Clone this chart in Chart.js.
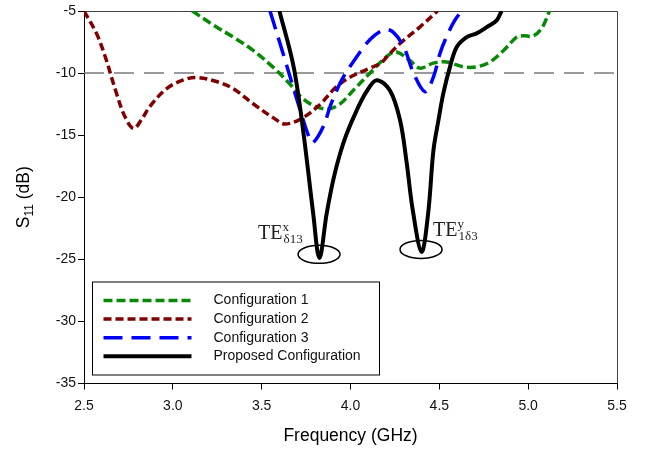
<!DOCTYPE html>
<html>
<head>
<meta charset="utf-8">
<script src="https://cdn.jsdelivr.net/npm/chart.js@4.4.0/dist/chart.umd.min.js"></script>
<style>
  html, body { margin: 0; padding: 0; background: #fff; }
</style>
</head>
<body>
<canvas id="s11Chart" width="645" height="451"></canvas>
<script>
// values (frequency in GHz, S11 in dB)
var freqConfig1 = [3.11, 3.23, 3.34, 3.45, 3.57, 3.66, 3.72, 3.79, 3.87, 3.94, 4.015, 4.11, 4.21, 4.26, 4.335, 4.39, 4.466, 4.54, 4.635, 4.71, 4.785, 4.86, 4.935, 4.97, 5.03, 5.08, 5.12];
var s11Config1 = [-5.0, -6.15, -7.1, -8.15, -9.6, -10.9, -11.9, -12.6, -12.9, -12.5, -11.4, -10.0, -8.6, -8.3, -9.0, -9.6, -9.2, -9.1, -9.5, -9.5, -9.1, -8.2, -7.1, -7.0, -7.0, -6.3, -5.0];

var freqConfig2 = [2.50, 2.57, 2.62, 2.68, 2.73, 2.78, 2.83, 2.87, 2.965, 3.06, 3.135, 3.25, 3.34, 3.45, 3.57, 3.63, 3.72, 3.83, 3.92, 4.015, 4.11, 4.17, 4.21, 4.28, 4.39, 4.49];
var s11Config2 = [-5.0, -6.8, -8.7, -11.5, -13.5, -14.45, -13.6, -12.7, -11.25, -10.55, -10.35, -10.7, -11.25, -12.45, -13.65, -14.1, -13.7, -12.5, -11.1, -10.2, -9.6, -9.2, -8.6, -7.6, -6.3, -5.0];

var freqConfig3 = [3.547, 3.62, 3.70, 3.77, 3.79, 3.847, 3.885, 3.922, 3.96, 4.015, 4.11, 4.19, 4.24, 4.30, 4.355, 4.42, 4.467, 4.504, 4.54, 4.585, 4.625];
var s11Config3 = [-5.0, -8.4, -12.2, -15.3, -15.6, -14.3, -12.7, -11.4, -10.3, -9.1, -7.3, -6.5, -6.7, -7.9, -10.0, -11.5, -10.3, -8.4, -7.1, -5.8, -5.0];

var freqProposed = [3.60, 3.68, 3.735, 3.79, 3.825, 3.866, 3.903, 3.941, 3.978, 4.035, 4.09, 4.147, 4.222, 4.279, 4.316, 4.35, 4.40, 4.437, 4.467, 4.495, 4.523, 4.56, 4.598, 4.654, 4.71, 4.767, 4.823, 4.85];
var s11Proposed = [-5.0, -9.5, -14.8, -21.3, -24.9, -21.3, -18.6, -16.5, -14.9, -13.0, -11.5, -10.57, -11.4, -13.8, -17.2, -21.0, -24.4, -21.3, -16.2, -13.8, -11.6, -9.5, -7.9, -7.1, -6.8, -6.3, -5.75, -5.0];

var refLevel = -10;
var xTicks = [2.5, 3.0, 3.5, 4.0, 4.5, 5.0, 5.5];
var yTicks = [-35, -30, -25, -20, -15, -10, -5];

var seriesNames = ['Configuration 1', 'Configuration 2', 'Configuration 3', 'Proposed Configuration'];

// mode markers (ellipse around each dip + its label)
var modeFreq = [3.823, 4.397];
var modeLevel = [-24.6, -24.2];
var labelFreq = [3.48, 4.465];
var labelLevel = [-23.4, -23.15];
var labelSup = ['x', 'y'];
var labelSub = ['\u03b413', '1\u03b43'];

function toPoints(xs, ys) {
    var pts = [];
    for (var i = 0; i < xs.length; i++) {
        pts.push({x: xs[i], y: ys[i]});
    }
    return pts;
}

var sansFont = "'Liberation Sans', Arial, sans-serif";
var serifFont = "'Liberation Serif', 'Times New Roman', serif";

var frameLines = {
    id: 'frameLines',
    beforeDatasetsDraw: function (chart) {
        var ctx = chart.ctx, a = chart.chartArea;
        ctx.save();
        ctx.strokeStyle = '#444';
        ctx.lineWidth = 1;
        ctx.beginPath();
        ctx.moveTo(a.left, a.top + 0.5);
        ctx.lineTo(a.right + 0.5, a.top + 0.5);
        ctx.lineTo(a.right + 0.5, a.bottom);
        ctx.stroke();
        ctx.restore();
    }
};

var modeMarks = {
    id: 'modeMarks',
    afterDatasetsDraw: function (chart) {
        var ctx = chart.ctx;
        var xs = chart.scales.x, ys = chart.scales.y;
        ctx.save();
        ctx.strokeStyle = '#000';
        ctx.lineWidth = 1.5;
        for (var i = 0; i < modeFreq.length; i++) {
            ctx.beginPath();
            ctx.ellipse(xs.getPixelForValue(modeFreq[i]), ys.getPixelForValue(modeLevel[i]), 21, 9, 0, 0, Math.PI * 2);
            ctx.stroke();
        }
        ctx.fillStyle = '#222';
        ctx.textBaseline = 'alphabetic';
        ctx.textAlign = 'left';
        for (var j = 0; j < labelFreq.length; j++) {
            var px = xs.getPixelForValue(labelFreq[j]);
            var py = ys.getPixelForValue(labelLevel[j]);
            ctx.font = '20px ' + serifFont;
            ctx.fillText('TE', px, py);
            var w = ctx.measureText('TE').width;
            ctx.font = '13px ' + serifFont;
            ctx.fillText(labelSup[j], px + w, py - 8);
            ctx.fillText(labelSub[j], px + w + 1, py + 4);
        }
        ctx.restore();
    }
};

var yTitle = {
    id: 'yTitle',
    afterDraw: function (chart) {
        var ctx = chart.ctx, a = chart.chartArea;
        ctx.save();
        ctx.translate(29, (a.top + a.bottom) / 2);
        ctx.rotate(-Math.PI / 2);
        ctx.fillStyle = '#000';
        ctx.textBaseline = 'alphabetic';
        ctx.textAlign = 'left';
        ctx.font = '17.5px ' + sansFont;
        var wS = ctx.measureText('S').width;
        var wRest = ctx.measureText(' (dB)').width;
        ctx.font = '12px ' + sansFont;
        var wSub = ctx.measureText('11').width;
        var x0 = -(wS + wSub + wRest) / 2;
        ctx.font = '17.5px ' + sansFont;
        ctx.fillText('S', x0, 0);
        ctx.font = '12px ' + sansFont;
        ctx.fillText('11', x0 + wS, 4);
        ctx.font = '17.5px ' + sansFont;
        ctx.fillText(' (dB)', x0 + wS + wSub, 0);
        ctx.restore();
    }
};

var boxLegend = {
    id: 'boxLegend',
    afterDraw: function (chart) {
        var ctx = chart.ctx, a = chart.chartArea;
        var left = a.left + 8.5, top = a.bottom - 101.5;
        var width = 287, height = 93;
        ctx.save();
        ctx.fillStyle = '#fff';
        ctx.fillRect(left, top, width, height);
        ctx.strokeStyle = '#000';
        ctx.lineWidth = 1;
        ctx.strokeRect(left, top, width, height);
        ctx.font = '14px ' + sansFont;
        ctx.textBaseline = 'middle';
        ctx.textAlign = 'left';
        for (var i = 0; i < seriesNames.length; i++) {
            var ds = chart.data.datasets[i];
            var rowY = top + 18.5 + i * 18.6;
            ctx.strokeStyle = ds.borderColor;
            ctx.lineWidth = ds.borderWidth;
            ctx.setLineDash(ds.borderDash || []);
            ctx.beginPath();
            ctx.moveTo(left + 11, rowY);
            ctx.lineTo(left + 99, rowY);
            ctx.stroke();
            ctx.setLineDash([]);
            ctx.fillStyle = '#111';
            ctx.fillText(seriesNames[i], left + 121, rowY);
        }
        ctx.restore();
    }
};

var lineBase = {
    showLine: true,
    pointRadius: 0,
    fill: false,
    tension: 0.35
};

var ctx = document.getElementById('s11Chart');
var s11Chart = new Chart(ctx, {
    type: 'scatter',
    data: {
        datasets: [
            Object.assign({}, lineBase, {
                label: seriesNames[0],
                data: toPoints(freqConfig1, s11Config1),
                borderColor: '#088a08',
                borderWidth: 3.5,
                borderDash: [9, 4],
                order: 3
            }),
            Object.assign({}, lineBase, {
                label: seriesNames[1],
                data: toPoints(freqConfig2, s11Config2),
                borderColor: '#800000',
                borderWidth: 3.5,
                borderDash: [8, 4],
                order: 2
            }),
            Object.assign({}, lineBase, {
                label: seriesNames[2],
                data: toPoints(freqConfig3, s11Config3),
                borderColor: '#0000ff',
                borderWidth: 3.5,
                borderDash: [19, 9],
                order: 1
            }),
            Object.assign({}, lineBase, {
                label: seriesNames[3],
                data: toPoints(freqProposed, s11Proposed),
                borderColor: '#000000',
                borderWidth: 4,
                order: 0
            }),
            Object.assign({}, lineBase, {
                label: 'ref',
                data: toPoints([xTicks[0], xTicks[xTicks.length - 1]], [refLevel, refLevel]),
                borderColor: '#7a7a7a',
                borderWidth: 1.5,
                borderDash: [20, 10],
                tension: 0,
                order: 5
            })
        ]
    },
    options: {
        responsive: false,
        animation: false,
        devicePixelRatio: 1,
        layout: { padding: { left: 0, top: 11, right: 28, bottom: 0 } },
        plugins: {
            legend: { display: false },
            tooltip: { enabled: false }
        },
        scales: {
            x: {
                type: 'linear',
                min: xTicks[0],
                max: xTicks[xTicks.length - 1],
                afterFit: function (scale) { scale.height = 67.5; },
                afterBuildTicks: function (scale) {
                    scale.ticks = xTicks.map(function (v) { return {value: v}; });
                },
                grid: { drawOnChartArea: false, drawTicks: true, tickLength: 6, color: '#000' },
                border: { display: true, color: '#000', width: 1 },
                ticks: {
                    color: '#111',
                    padding: 8,
                    font: { family: sansFont, size: 14 },
                    callback: function (v) { return Number(v).toFixed(1); }
                },
                title: {
                    display: true,
                    text: 'Frequency (GHz)',
                    color: '#000',
                    font: { family: sansFont, size: 17.5 },
                    padding: { top: 0, bottom: 4 }
                }
            },
            y: {
                type: 'linear',
                min: yTicks[0],
                max: yTicks[yTicks.length - 1],
                afterFit: function (scale) { scale.width = 84; },
                afterBuildTicks: function (scale) {
                    scale.ticks = yTicks.map(function (v) { return {value: v}; });
                },
                grid: { drawOnChartArea: false, drawTicks: true, tickLength: 6, color: '#000' },
                border: { display: true, color: '#000', width: 1 },
                ticks: {
                    color: '#111',
                    padding: 2,
                    font: { family: sansFont, size: 14 },
                    callback: function (v) { return String(v); }
                }
            }
        }
    },
    plugins: [frameLines, modeMarks, yTitle, boxLegend]
});
</script>
</body>
</html>
